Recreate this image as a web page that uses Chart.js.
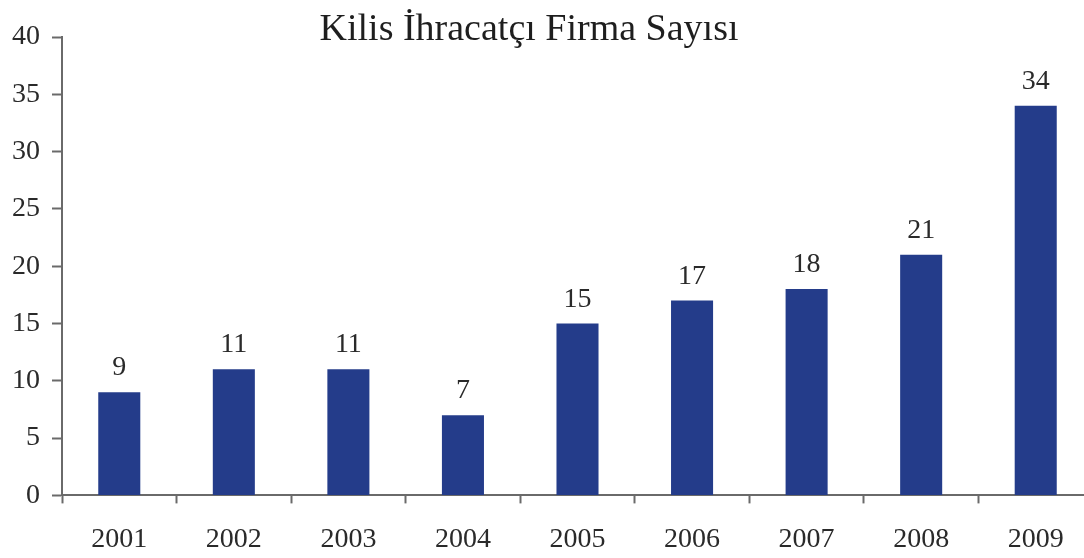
<!DOCTYPE html>
<html>
<head>
<meta charset="utf-8">
<script src="https://cdn.jsdelivr.net/npm/chart.js@4/dist/chart.umd.min.js"></script>
<style>
  html, body { margin: 0; padding: 0; background: #fff; overflow: hidden; width: 1084px; height: 558px; }
  #wrap { position: relative; width: 1093px; height: 577px; }
</style>
</head>
<body>
<div id="wrap"><canvas id="c" width="1093" height="577"></canvas></div>
<script>
const titleText = "Kilis İhracatçı Firma Sayısı";
const categories = ["2001", "2002", "2003", "2004", "2005", "2006", "2007", "2008", "2009"];
const firmCounts = [9, 11, 11, 7, 15, 17, 18, 21, 34];
const yTicks = [0, 5, 10, 15, 20, 25, 30, 35, 40];

const FONT = "'Liberation Serif', 'DejaVu Serif', serif";
const TEXT = "#2a2a2a";
const AXIS = "#6a6a6a";

const titlePlugin = {
  id: 'customTitle',
  afterDraw(chart) {
    const ctx = chart.ctx;
    ctx.save();
    ctx.font = "38px " + FONT;
    ctx.fillStyle = "#1e1e1e";
    ctx.textAlign = "center";
    ctx.textBaseline = "alphabetic";
    ctx.fillText(titleText, 529, 40);
    ctx.restore();
  }
};

const valueLabels = {
  id: 'valueLabels',
  afterDatasetsDraw(chart) {
    const ctx = chart.ctx;
    const meta = chart.getDatasetMeta(0);
    ctx.save();
    ctx.font = "28px " + FONT;
    ctx.fillStyle = TEXT;
    ctx.textAlign = "center";
    ctx.textBaseline = "alphabetic";
    meta.data.forEach((bar, i) => {
      ctx.fillText(String(chart.data.datasets[0].data[i]), bar.x, bar.y - 17);
    });
    ctx.restore();
  }
};

new Chart(document.getElementById('c'), {
  type: 'bar',
  data: {
    labels: categories,
    datasets: [{
      data: firmCounts,
      backgroundColor: '#243c8a',
      borderWidth: 0,
      categoryPercentage: 1.0,
      barPercentage: 0.367
    }]
  },
  options: {
    responsive: false,
    animation: false,
    layout: { padding: { top: 37, left: 0, right: 0, bottom: 2 } },
    plugins: {
      legend: { display: false },
      title: { display: false },
      tooltip: { enabled: false }
    },
    scales: {
      x: {
        grid: {
          display: true,
          offset: true,
          drawOnChartArea: false,
          drawTicks: true,
          tickLength: 8,
          tickWidth: 2,
          tickColor: AXIS
        },
        border: { display: true, color: AXIS, width: 2 },
        ticks: {
          color: TEXT,
          font: { family: FONT, size: 28 },
          padding: 19,
          maxRotation: 0
        }
      },
      y: {
        min: 0,
        max: 40,
        afterBuildTicks(scale) { scale.ticks = yTicks.map(v => ({ value: v })); },
        grid: {
          display: true,
          drawOnChartArea: false,
          drawTicks: true,
          tickLength: 10,
          tickWidth: 2,
          tickColor: AXIS
        },
        border: { display: true, color: AXIS, width: 2 },
        ticks: {
          color: TEXT,
          font: { family: FONT, size: 28 },
          padding: 12
        }
      }
    }
  },
  plugins: [titlePlugin, valueLabels]
});
</script>
</body>
</html>
